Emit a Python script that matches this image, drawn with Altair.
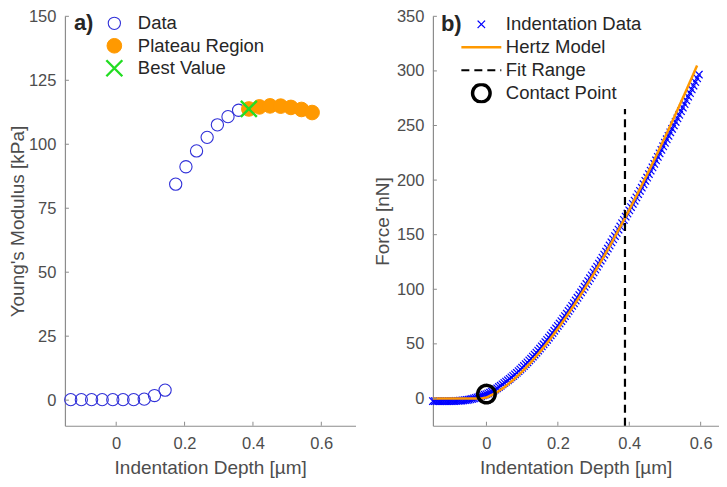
import altair as alt
import pandas as pd

FONT = "Liberation Sans"
X_PATH = "M-1,-1L1,1M-1,1L1,-1"

# ---------------- panel a) ----------------
depth_a = [-0.133, -0.102, -0.072, -0.041, -0.010, 0.020, 0.051, 0.082, 0.112, 0.143,
           0.174, 0.204, 0.235, 0.266, 0.296, 0.327, 0.358, 0.388, 0.419, 0.450,
           0.481, 0.511, 0.542, 0.573]
modulus_a = [0.2, 0.2, 0.2, 0.2, 0.2, 0.2, 0.2, 0.4, 1.8, 3.9,
             84.4, 91.2, 97.4, 102.7, 107.6, 110.8, 113.3, 113.8, 114.6, 115.0,
             114.9, 114.4, 113.6, 112.4]
plateau_depth = [0.388, 0.419, 0.450, 0.481, 0.511, 0.542, 0.573]
plateau_modulus = [113.8, 114.6, 115.0, 114.9, 114.4, 113.6, 112.4]
best_depth = [0.388]
best_modulus = [113.8]
series_a = ["Data", "Plateau Region", "Best Value"]
xticks_a = [0, 0.2, 0.4, 0.6]
yticks_a = [0, 25, 50, 75, 100, 125, 150]

# ---------------- panel b) ----------------
ind_depth = [-0.150, -0.145, -0.140, -0.135, -0.130, -0.125, -0.120, -0.115, -0.110, -0.105,
             -0.100, -0.095, -0.090, -0.085, -0.080, -0.075, -0.070, -0.065, -0.060, -0.055,
             -0.050, -0.045, -0.040, -0.035, -0.030, -0.025, -0.020, -0.015, -0.010, -0.005,
             0.000, 0.005, 0.010, 0.015, 0.020, 0.025, 0.030, 0.035, 0.040, 0.045,
             0.050, 0.055, 0.060, 0.065, 0.070, 0.075, 0.080, 0.085, 0.090, 0.095,
             0.100, 0.105, 0.110, 0.115, 0.120, 0.125, 0.130, 0.135, 0.140, 0.145,
             0.150, 0.155, 0.160, 0.165, 0.170, 0.175, 0.180, 0.185, 0.190, 0.195,
             0.200, 0.205, 0.210, 0.215, 0.220, 0.225, 0.230, 0.235, 0.240, 0.245,
             0.250, 0.255, 0.260, 0.265, 0.270, 0.275, 0.280, 0.285, 0.290, 0.295,
             0.300, 0.305, 0.310, 0.315, 0.320, 0.325, 0.330, 0.335, 0.340, 0.345,
             0.350, 0.355, 0.360, 0.365, 0.370, 0.375, 0.380, 0.385, 0.390, 0.395,
             0.400, 0.405, 0.410, 0.415, 0.420, 0.425, 0.430, 0.435, 0.440, 0.445,
             0.450, 0.455, 0.460, 0.465, 0.470, 0.475, 0.480, 0.485, 0.490, 0.495,
             0.500, 0.505, 0.510, 0.515, 0.520, 0.525, 0.530, 0.535, 0.540, 0.545,
             0.550, 0.555, 0.560, 0.565, 0.570, 0.575, 0.580, 0.585, 0.590, 0.595]
ind_force = [-2.5, -2.5, -2.5, -2.5, -2.5, -2.5, -2.5, -2.5, -2.5, -2.5,
             -2.5, -2.4, -2.4, -2.3, -2.2, -2.1, -2.0, -1.8, -1.6, -1.4,
             -1.1, -0.8, -0.4, 0.0, 0.5, 1.0, 1.6, 2.2, 2.8, 3.4,
             3.9, 4.6, 5.4, 6.3, 7.2, 8.2, 9.3, 10.5, 11.6, 12.9,
             14.2, 15.4, 16.6, 17.9, 19.3, 20.6, 22.0, 23.5, 25.0, 26.5,
             28.1, 29.7, 31.4, 33.0, 34.8, 36.5, 38.3, 40.1, 41.9, 43.8,
             45.7, 47.7, 49.6, 51.6, 53.6, 55.7, 57.8, 59.9, 62.0, 64.2,
             66.4, 68.6, 70.8, 73.1, 75.4, 77.7, 80.1, 82.4, 84.8, 87.2,
             89.7, 92.2, 94.7, 97.2, 99.7, 102.3, 104.8, 107.5, 110.1, 112.7,
             115.4, 118.1, 120.7, 123.5, 126.2, 128.9, 131.7, 134.5, 137.3, 140.1,
             143.0, 145.8, 148.7, 151.6, 154.6, 157.5, 160.5, 163.5, 166.5, 169.4,
             172.3, 175.2, 178.2, 181.1, 184.1, 187.1, 190.1, 193.1, 196.2, 199.3,
             202.3, 205.5, 208.6, 211.7, 214.9, 218.1, 221.3, 224.5, 227.7, 231.0,
             234.2, 237.4, 240.5, 243.7, 246.9, 250.1, 253.3, 256.6, 259.8, 263.1,
             266.4, 269.7, 273.0, 276.4, 279.7, 283.1, 286.5, 289.9, 293.3, 296.6]
hertz_depth = [-0.15, -0.10, -0.05, -0.0125, 0.0, 0.025, 0.05, 0.075, 0.10, 0.125,
               0.15, 0.175, 0.20, 0.225, 0.25, 0.275, 0.30, 0.325, 0.35, 0.375,
               0.40, 0.425, 0.45, 0.475, 0.50, 0.525, 0.55, 0.575, 0.59]
hertz_force = [0.0, 0.0, 0.0, 0.0, 0.9, 4.7, 10.2, 16.9, 24.6, 33.2,
               42.7, 52.9, 63.9, 75.5, 87.7, 100.5, 113.9, 127.8, 142.3, 157.3,
               172.7, 188.7, 205.1, 221.9, 239.2, 256.9, 275.1, 293.6, 304.9]
fit_depth = [0.388]
fit_low = [-25]
fit_high = [265]
contact_depth = [0.0]
contact_force = [4.0]
series_b = ["Indentation Data", "Hertz Model", "Fit Range", "Contact Point"]
xticks_b = [0, 0.2, 0.4, 0.6]
yticks_b = [0, 50, 100, 150, 200, 250, 300, 350]

# ---------------- tables ----------------
dfa = pd.concat([
    pd.DataFrame({"depth": depth_a, "val": modulus_a, "sa": series_a[0]}),
    pd.DataFrame({"depth": plateau_depth, "val": plateau_modulus, "sa": series_a[1]}),
    pd.DataFrame({"depth": best_depth, "val": best_modulus, "sa": series_a[2]}),
], ignore_index=True)
df_ind = pd.DataFrame({"depth": ind_depth, "val": ind_force, "sb": series_b[0]})
df_hertz = pd.DataFrame({"depth": hertz_depth, "val": hertz_force, "sb": series_b[1]})
df_fit = pd.DataFrame({"depth": fit_depth, "val": fit_low, "val2": fit_high, "sb": series_b[2]})
df_contact = pd.DataFrame({"depth": contact_depth, "val": contact_force, "sb": series_b[3]})

AX_COLOR = "#4d4d4d"
TICK_COLOR = "#8c8c8c"
H = 410

def x_axis():
    return alt.Axis(values=[0, 0.2, 0.4, 0.6], format=".1~f", title="Indentation Depth [µm]",
                    labelPadding=10, titlePadding=6)

def inner_ticks(xvals, yvals, xenc, yenc):
    tx = alt.Chart(pd.DataFrame({"depth": xvals})).mark_rule(color=TICK_COLOR, strokeWidth=1).encode(
        x=xenc, y=alt.value(H), y2=alt.value(H - 4))
    ty = alt.Chart(pd.DataFrame({"val": yvals})).mark_rule(color=TICK_COLOR, strokeWidth=1).encode(
        y=yenc, x=alt.value(0), x2=alt.value(4))
    return [tx, ty]

# ---------------- left chart ----------------
leg_a = alt.Legend(title=None, orient="none", legendX=40, legendY=-3, padding=0,
                   labelFont=FONT, labelFontSize=18.5, labelColor="#262626",
                   labelOffset=14, clipHeight=20, rowPadding=2.5, symbolOffset=0)

xa = alt.X("depth:Q", scale=alt.Scale(domain=[-0.15, 0.7], nice=False, zero=False), axis=x_axis())
ya = alt.Y("val:Q", scale=alt.Scale(domain=[-10, 150], nice=False, zero=False),
           axis=alt.Axis(values=yticks_a, title="Young's Modulus [kPa]",
                         labelPadding=9, titlePadding=1))

pts_a = alt.Chart(dfa).mark_point(opacity=1, filled=False).encode(
    x=xa, y=ya,
    shape=alt.Shape("sa:N", scale=alt.Scale(domain=series_a, range=["circle", "circle", X_PATH]), legend=leg_a),
    fill=alt.Fill("sa:N", scale=alt.Scale(domain=series_a, range=["transparent", "#ff9900", "transparent"]), legend=leg_a),
    stroke=alt.Stroke("sa:N", scale=alt.Scale(domain=series_a, range=["#3030d8", "#ff9900", "#22dd22"]), legend=leg_a),
    size=alt.Size("sa:N", scale=alt.Scale(type="ordinal", domain=series_a, range=[150, 215, 256]), legend=leg_a),
    strokeWidth=alt.StrokeWidth("sa:N", scale=alt.Scale(type="ordinal", domain=series_a, range=[1.1, 1.0, 2.4]), legend=leg_a),
)
lab_a = alt.Chart(pd.DataFrame({"t": ["a)"]})).mark_text(
    align="left", baseline="middle", font=FONT, fontSize=22, fontWeight="bold", color="#262626"
).encode(text="t:N", x=alt.value(9), y=alt.value(7))

left = alt.layer(pts_a, *inner_ticks(xticks_a, yticks_a, xa, ya), lab_a).properties(width=291, height=H)

# ---------------- right chart ----------------
leg_b = alt.Legend(title=None, orient="none", legendX=27, legendY=-2, padding=0,
                   labelFont=FONT, labelFontSize=18.5, labelColor="#262626",
                   labelOffset=3, clipHeight=20, rowPadding=3, symbolOffset=0,
                   symbolFillColor="transparent")

xb = alt.X("depth:Q", scale=alt.Scale(domain=[-0.15, 0.65], nice=False, zero=False), axis=x_axis())
yb = alt.Y("val:Q", scale=alt.Scale(domain=[-25, 350], nice=False, zero=False),
           axis=alt.Axis(values=yticks_b, title="Force [nN]",
                         labelPadding=9, titlePadding=4))

stroke_b = alt.Stroke("sb:N", scale=alt.Scale(domain=series_b, range=["#0000ff", "#ff9900", "#000000", "#000000"]), legend=leg_b)
sw_b = alt.StrokeWidth("sb:N", scale=alt.Scale(type="ordinal", domain=series_b, range=[1.2, 2.5, 2.2, 3.5]), legend=leg_b)
dash_b = alt.StrokeDash("sb:N", scale=alt.Scale(domain=series_b, range=[[1, 0], [1, 0], [8, 5], [1, 0]]), legend=leg_b)
shape_b = alt.Shape("sb:N", scale=alt.Scale(domain=series_b, range=[X_PATH, "stroke", "stroke", "circle"]), legend=leg_b)
size_b = alt.Size("sb:N", scale=alt.Scale(type="ordinal", domain=series_b, range=[56, 1600, 1600, 306]), legend=leg_b)

ind = alt.Chart(df_ind).mark_point(opacity=1, filled=False).encode(
    x=xb, y=yb, shape=shape_b, size=size_b, stroke=stroke_b, strokeWidth=sw_b, strokeDash=dash_b)
hertz = alt.Chart(df_hertz).mark_line().encode(
    x=xb, y=yb, stroke=stroke_b, strokeWidth=sw_b, strokeDash=dash_b)
fit = alt.Chart(df_fit).mark_rule().encode(
    x=xb, y=yb, y2="val2:Q", stroke=stroke_b, strokeWidth=sw_b, strokeDash=dash_b)
contact = alt.Chart(df_contact).mark_point(opacity=1, filled=False).encode(
    x=xb, y=yb, shape=shape_b, size=size_b, stroke=stroke_b, strokeWidth=sw_b, strokeDash=dash_b)
lab_b = alt.Chart(pd.DataFrame({"t": ["b)"]})).mark_text(
    align="left", baseline="middle", font=FONT, fontSize=22, fontWeight="bold", color="#262626"
).encode(text="t:N", x=alt.value(8), y=alt.value(8))

right = alt.layer(ind, hertz, fit, contact, *inner_ticks(xticks_b, yticks_b, xb, yb), lab_b
                  ).properties(width=286, height=H)

IND = "independent"
chart = alt.hconcat(left, right, spacing=17.5).properties(padding=0).resolve_scale(
    shape=IND, fill=IND, stroke=IND, size=IND, strokeWidth=IND, strokeDash=IND
).resolve_legend(
    shape=IND, fill=IND, stroke=IND, size=IND, strokeWidth=IND, strokeDash=IND
).configure_axis(
    labelFont=FONT, titleFont=FONT, labelFontSize=16.5, titleFontSize=19,
    labelColor=AX_COLOR, titleColor=AX_COLOR, titleFontWeight="normal",
    domainColor=TICK_COLOR, domainWidth=1.2, grid=False, ticks=False, tickSize=0
).configure_view(stroke=None)

chart.save("out.html", embed_options={"renderer": "svg", "actions": False})
